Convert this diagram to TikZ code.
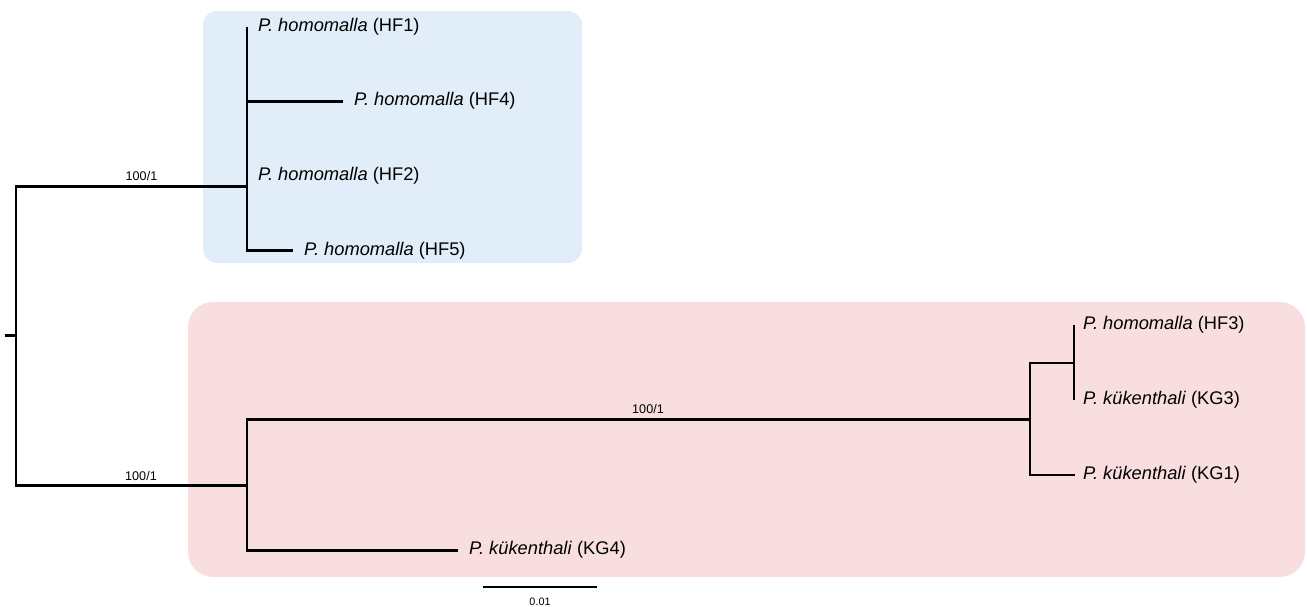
\documentclass[tikz,border=0pt]{standalone}
\usepackage{fontspec}
\setmainfont{Liberation Sans}
\definecolor{blueclade}{RGB}{225,237,248}
\definecolor{pinkclade}{RGB}{249,222,223}
\begin{document}
\begin{tikzpicture}[x=1pt,y=-1pt,
  br/.style={line width=2.8pt, line cap=butt, line join=miter},
  leaf/.style={anchor=base west, inner sep=0pt, xshift=11pt, yshift=-4.5pt, font=\fontsize{18.3}{20}\selectfont},
  support/.style={anchor=base, inner sep=0pt, font=\fontsize{12.6}{14}\selectfont},
  scalelbl/.style={anchor=center, inner sep=0pt, font=\fontsize{10.8}{12}\selectfont}]
\useasboundingbox (0,0) rectangle (1307,607);
% clade boxes
\fill[blueclade, rounded corners=14pt] (203,11) rectangle (582,263);
\fill[pinkclade, rounded corners=25pt] (188,302) rectangle (1305,577);
% internal nodes
\coordinate (r0) at (5,335.5);
\coordinate (r) at (16,335.5);
\coordinate (a) at (247,186.7);
\coordinate (b) at (247,485.5);
\coordinate (c) at (1030,419.5);
\coordinate (d) at (1074,363);
% leaves
\coordinate (HF1) at (247,26.7);
\coordinate (HF4) at (343,101.4);
\coordinate (HF2) at (247,176);
\coordinate (HF5) at (293,250.7);
\coordinate (HF3) at (1074,325.4);
\coordinate (KG3) at (1074,400);
\coordinate (KG1) at (1075,475);
\coordinate (KG4) at (458,550.4);
% branches
\draw[br] (r0) -- (r);
\draw[br] (a) -- (a -| r) -- (b -| r) -- (b);
\draw[br] (HF1) -- (HF5 -| a) -- (HF5);
\draw[br] (HF4 -| a) -- (HF4);
\draw[br] (c) -- (c -| b) -- (KG4 -| b) -- (KG4);
\draw[br] (d) -- (d -| c) -- (KG1 -| c) -- (KG1);
\draw[br] (HF3) -- (KG3);
% leaf labels
\node[leaf] (tHF1) at (HF1) {\itshape P. homomalla\/\upshape{} (HF1)};
\node[leaf] (tHF4) at (HF4) {\itshape P. homomalla\/\upshape{} (HF4)};
\node[leaf] (tHF2) at (HF2) {\itshape P. homomalla\/\upshape{} (HF2)};
\node[leaf] (tHF5) at (HF5) {\itshape P. homomalla\/\upshape{} (HF5)};
\node[leaf, xshift=-2pt] (tHF3) at (HF3) {\itshape P. homomalla\/\upshape{} (HF3)};
\node[leaf, xshift=-2pt] (tKG3) at (KG3) {\itshape P. kükenthali\/\upshape{} (KG3)};
\node[leaf, xshift=-3pt] (tKG1) at (KG1) {\itshape P. kükenthali\/\upshape{} (KG1)};
\node[leaf] (tKG4) at (KG4) {\itshape P. kükenthali\/\upshape{} (KG4)};
% support values
\node[support] (s1) at (141.5,181) {100/1};
\node[support] (s2) at (141,480) {100/1};
\node[support] (s3) at (648,413.5) {100/1};
% scale bar
\coordinate (sb1) at (483,587);
\coordinate (sb2) at (597,587);
\draw[br] (sb1) -- (sb2);
\node[scalelbl] (sbl) at (540,601.5) {0.01};
\end{tikzpicture}
\end{document}
